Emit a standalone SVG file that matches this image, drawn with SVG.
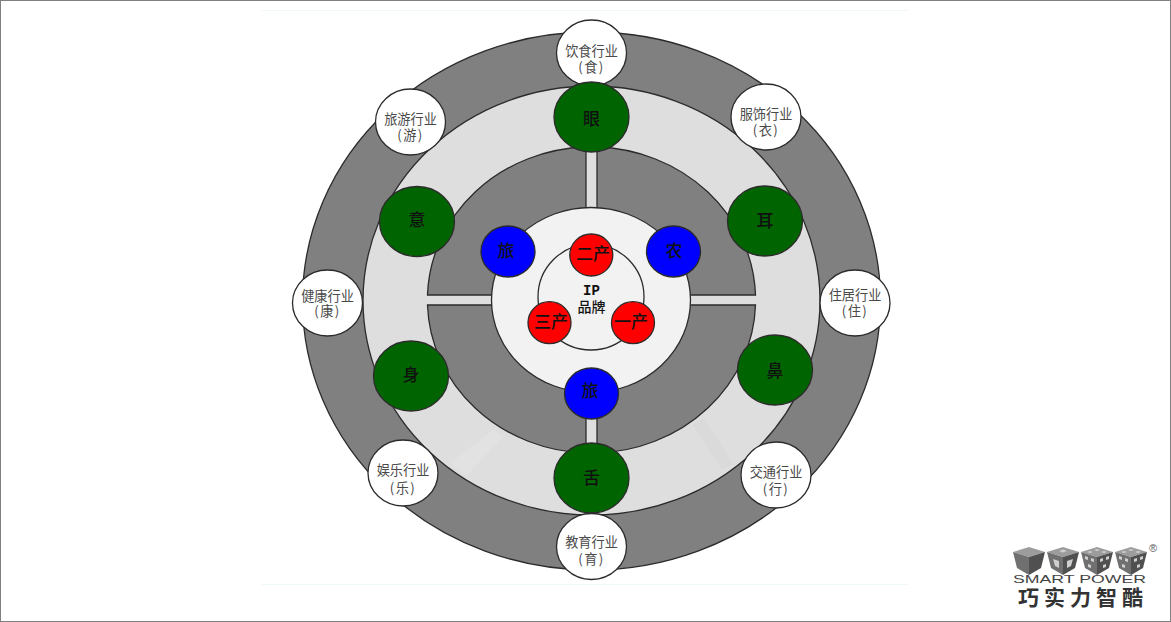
<svg xmlns="http://www.w3.org/2000/svg" width="1171" height="622" viewBox="0 0 1171 622">
<style>
text{font-family:"Noto Sans CJK SC","Noto Sans",sans-serif;text-anchor:middle}
.ln{stroke:#2b2b2b;stroke-width:1.300}
.ind{fill:#fff}
.ind text{font-size:13.200px;fill:#4a4a4a}
.ind .par{letter-spacing:1.500px}
.sense{fill:#006400}
.blue{fill:#0000ff}
.red{fill:#ff0000}
.big{font-size:17px;fill:#111;font-weight:500}
.core{font-size:14px;fill:#111;font-weight:500}
.gray{fill:#808080}
.f1{fill:#9c9c9c}.f2{fill:#707070}.f3{fill:#505050}.f4{fill:#cfcfcf}
</style>
<rect x="0.500" y="0.500" width="1170" height="621" fill="#fff" stroke="#808080"/>
<path d="M262 10.500H908M262 584.500H908" stroke="#eef8f6" fill="none"/>
<g id="rings">
<ellipse class="gray ln" cx="591.500" cy="301" rx="289" ry="269"/>
<ellipse class="ln" fill="#dedede" cx="591.500" cy="300.500" rx="228.500" ry="214.500"/>
<path d="M450 463L493 430L503 437L467 475Z" fill="#e2e2e2"/>
<path d="M693 425L704 418L733 464L722 470Z" fill="#dadada"/>
<g id="quadrants" class="gray ln">
<path d="M427.500 295A164 153 0 0 1 586 147V295Z"/>
<path d="M755.500 295A164 153 0 0 0 597 147V295Z"/>
<path d="M427.500 305A164 153 0 0 0 586 453V305Z"/>
<path d="M755.500 305A164 153 0 0 1 597 453V305Z"/>
</g>
<ellipse class="ln" fill="#f2f2f2" cx="591" cy="300" rx="99.500" ry="92.500"/>
<circle class="ln" fill="#f2f2f2" cx="591" cy="297" r="53"/>
</g>
<g id="connectors"></g>
<g id="ip"><text x="591.500" y="295" style="font-family:'Liberation Mono',monospace;font-size:14px;font-weight:700;fill:#111">IP</text><text class="core" x="591.500" y="312">品牌</text></g>
<g id="n-food" class="ind"><ellipse class="ln" cx="591.500" cy="53" rx="35" ry="33"/><text x="591.500" y="56">饮食行业</text><text class="par" x="591.500" y="72">(食)</text></g>
<g id="n-cloth" class="ind"><ellipse class="ln" cx="766" cy="117" rx="35" ry="33"/><text x="766" y="119">服饰行业</text><text class="par" x="766" y="135">(衣)</text></g>
<g id="n-live" class="ind"><ellipse class="ln" cx="855" cy="303" rx="35" ry="33"/><text x="855" y="300">住居行业</text><text class="par" x="855" y="316">(住)</text></g>
<g id="n-traffic" class="ind"><ellipse class="ln" cx="776" cy="475" rx="35" ry="33"/><text x="776" y="477">交通行业</text><text class="par" x="776" y="494">(行)</text></g>
<g id="n-edu" class="ind"><ellipse class="ln" cx="591.500" cy="546.500" rx="35" ry="33"/><text x="591.500" y="547">教育行业</text><text class="par" x="591.500" y="564">(育)</text></g>
<g id="n-fun" class="ind"><ellipse class="ln" cx="403" cy="473" rx="35" ry="33"/><text x="403" y="475">娱乐行业</text><text class="par" x="403" y="493">(乐)</text></g>
<g id="n-health" class="ind"><ellipse class="ln" cx="327.500" cy="303" rx="35" ry="33"/><text x="327.500" y="301">健康行业</text><text class="par" x="327.500" y="316">(康)</text></g>
<g id="n-tour" class="ind"><ellipse class="ln" cx="410.500" cy="122" rx="35" ry="33"/><text x="410.500" y="124">旅游行业</text><text class="par" x="410.500" y="140">(游)</text></g>
<g id="s-eye" class="sense"><ellipse class="ln" cx="591.500" cy="117" rx="37.500" ry="35"/><text class="big" x="591.500" y="125">眼</text></g>
<g id="s-ear" class="sense"><ellipse class="ln" cx="765" cy="221" rx="37.500" ry="35"/><text class="big" x="765" y="227">耳</text></g>
<g id="s-nose" class="sense"><ellipse class="ln" cx="775" cy="370" rx="37.500" ry="35"/><text class="big" x="775" y="377">鼻</text></g>
<g id="s-tongue" class="sense"><ellipse class="ln" cx="591.500" cy="478" rx="37.500" ry="35"/><text class="big" x="591.500" y="484">舌</text></g>
<g id="s-body" class="sense"><ellipse class="ln" cx="411" cy="376" rx="37.500" ry="35"/><text class="big" x="411" y="381">身</text></g>
<g id="s-mind" class="sense"><ellipse class="ln" cx="417" cy="221.500" rx="37.500" ry="35"/><text class="big" x="417" y="226">意</text></g>
<g id="b-tour1" class="blue"><ellipse class="ln" cx="508" cy="251.500" rx="27" ry="25.500"/><text class="big" x="506" y="257">旅</text></g>
<g id="b-farm" class="blue"><ellipse class="ln" cx="673.500" cy="251.500" rx="27" ry="25.500"/><text class="big" x="674" y="257">农</text></g>
<g id="b-tour2" class="blue"><ellipse class="ln" cx="591.500" cy="393.500" rx="27" ry="25.500"/><text class="big" x="590" y="397">旅</text></g>
<g id="r-2" class="red"><ellipse class="ln" cx="591.300" cy="255" rx="21.500" ry="21"/><text class="big" x="593" y="260">二产</text></g>
<g id="r-3" class="red"><ellipse class="ln" cx="549.500" cy="322.700" rx="21.500" ry="21"/><text class="big" x="551" y="328">三产</text></g>
<g id="r-1" class="red"><ellipse class="ln" cx="633" cy="322.700" rx="21.500" ry="21"/><text class="big" x="631" y="328">一产</text></g>
<g id="logo">
<g id="c1"><path class="f1" d="M1013 552L1029 547L1045 552L1029 557Z"/><path class="f2" d="M1013 552L1029 557V575L1017 568Z"/><path class="f3" d="M1045 552L1029 557V575L1041 568Z"/></g>
<g id="c2"><path class="f1" d="M1047 552L1063 547L1079 552L1063 557Z"/><path class="f2" d="M1047 552L1063 557V575L1051 568Z"/><path class="f3" d="M1079 552L1063 557V575L1075 568Z"/><path class="f4" d="M1053 559L1059 561V568L1055 566ZM1073 559L1067 561V568L1071 566ZM1059 551L1063 549.500L1067 551L1063 552.500Z"/></g>
<g id="c3"><path class="f1" d="M1081 552L1097 547L1113 552L1097 557Z"/><path class="f2" d="M1081 552L1097 557V575L1085 568Z"/><path class="f3" d="M1113 552L1097 557V575L1109 568Z"/><path class="f4" d="M1085 556l3 1v3l-3-1ZM1091 558l3 1v3l-3-1ZM1088 564l3 1v3l-3-1ZM1100 559l3-1v3l-3 1ZM1106 557l3-1v3l-3 1ZM1103 565l3-1v3l-3 1ZM1090 551l3 1-3 1-3-1ZM1097 549l3 1-3 1-3-1ZM1104 551l3 1-3 1-3-1Z"/></g>
<g id="c4"><path class="f1" d="M1115 552L1131 547L1147 552L1131 557Z"/><path class="f2" d="M1115 552L1131 557V575L1119 568Z"/><path class="f3" d="M1147 552L1131 557V575L1143 568Z"/><path class="f4" d="M1119 556l3 1v3l-3-1ZM1125 558l3 1v3l-3-1ZM1122 564l3 1v3l-3-1ZM1134 559l3-1v3l-3 1ZM1140 557l3-1v3l-3 1ZM1137 565l3-1v3l-3 1ZM1124 551l3 1-3 1-3-1ZM1131 549l3 1-3 1-3-1ZM1138 551l3 1-3 1-3-1Z"/></g>
<text x="1153" y="552" style="font-size:11px;fill:#555;font-family:'Liberation Sans',sans-serif">®</text>
<text x="1079.500" y="583" textLength="133" lengthAdjust="spacingAndGlyphs" style="font-size:10.500px;fill:#444;font-family:'Liberation Sans',sans-serif">SMART POWER</text>
<text x="1083" y="605" style="font-size:21px;font-weight:700;fill:#333;letter-spacing:5px">巧实力智酷</text>
</g>
</svg>
